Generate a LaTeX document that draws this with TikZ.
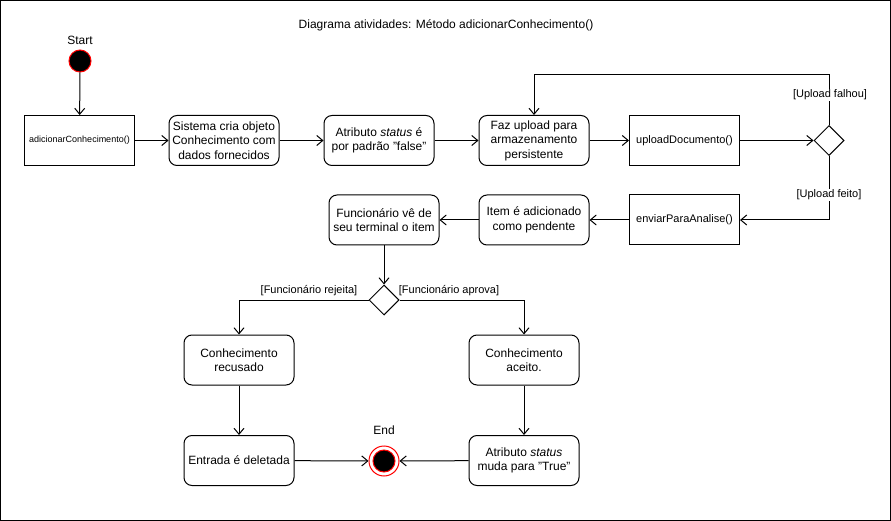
\documentclass[tikz,border=0pt]{standalone}
\usepackage{fontspec}
\setmainfont{Liberation Sans}
\usetikzlibrary{shapes.geometric, arrows.meta, positioning}

\begin{document}
\begin{tikzpicture}[x=1pt, y=-1pt, line width=1pt,
  act/.style={draw, rounded corners=8pt, minimum width=110pt, minimum height=50pt,
              inner sep=2pt, align=center, font=\fontsize{12}{14.5}\selectfont},
  mth/.style={draw, minimum width=110pt, minimum height=50pt, inner sep=2pt,
              align=center, font=\fontsize{11}{13}\selectfont},
  dec/.style={draw, diamond, minimum width=30pt, minimum height=30pt, inner sep=0pt},
  cnd/.style={font=\fontsize{11}{13}\selectfont, inner sep=1pt},
  arr/.style={-{Straight Barb[length=6pt, width=10pt]}},
]
\useasboundingbox (0,0) rectangle (891,521);
\draw (0.5,0.5) rectangle (890.5,520.5);

\node[font=\fontsize{12}{14}\selectfont] (title) at (446,25) {Diagrama atividades: Método adicionarConhecimento()};

% Upload phase
\node[circle, draw=red, fill=black, minimum size=22pt, inner sep=0pt] (start) at (80,61) {};
\node[font=\fontsize{12}{14}\selectfont] (startlbl) at (80,40) {Start};
\node[mth, font=\fontsize{9}{11}\selectfont] (adic) at (79.5,140.5) {adicionarConhecimento()};
\node[act] (sis) at (224,140.5) {Sistema cria objeto\\Conhecimento com\\dados fornecidos};
\node[act] (attr) at (379,140.5) {Atributo \textit{status} é\\por padrão {\char34}false{\char34}};
\node[act] (faz) at (534,140.5) {Faz upload para\\armazenamento\\persistente};
\node[mth] (upl) at (684.5,140.5) {uploadDocumento()};
\node[dec] (dec1) at (829,140.5) {};
\coordinate (loop) at (534,75);

\draw[arr] (start) -- (adic);
\draw[arr] (adic) -- (sis);
\draw[arr] (sis) -- (attr);
\draw[arr] (attr) -- (faz);
\draw[arr] (faz) -- (upl);
\draw[arr] (upl) -- (dec1);
\draw[arr] (dec1.north) |- (loop) -- (faz.north);

% Analysis phase
\node[mth] (env) at (684.5,220) {enviarParaAnalise()};
\node[act] (item) at (534,220) {Item é adicionado\\como pendente};
\node[act] (func) at (384,220) {Funcionário vê de\\seu terminal o item};
\node[dec] (dec2) at (384,300) {};

\draw[arr] (dec1.south) |- (env.east);
\draw[arr] (env) -- (item);
\draw[arr] (item) -- (func);
\draw[arr] (func) -- (dec2);

\node[cnd, fill=white] (falhou) at (830,95) {[Upload falhou]};
\node[cnd, fill=white] (feito) at (829,195) {[Upload feito]};

% Outcomes
\node[act] (rec) at (239,360) {Conhecimento\\recusado};
\node[act] (acc) at (524,360) {Conhecimento\\aceito.};
\node[act] (del) at (239,460.5) {Entrada é deletada};
\node[act] (sts) at (524,460.5) {Atributo \textit{status}\\muda para {\char34}True{\char34}};
\node[circle, draw=red, fill=white, minimum size=30pt, inner sep=0pt] (end) at (384,461) {};
\node[circle, draw=red, fill=black, minimum size=22pt, inner sep=0pt] (endin) at (384,461) {};
\node[font=\fontsize{12}{14}\selectfont] (endlbl) at (384,430) {End};

\draw[arr] (dec2.west) -| (rec.north);
\draw[arr] (dec2.east) -| (acc.north);
\draw[arr] (rec) -- (del);
\draw[arr] (acc) -- (sts);
\draw[arr] (del) -- (end);
\draw[arr] (sts) -- (end);

\node[cnd] (rej) at (309,291) {[Funcionário rejeita]};
\node[cnd] (apr) at (449,291) {[Funcionário aprova]};
\end{tikzpicture}
\end{document}
